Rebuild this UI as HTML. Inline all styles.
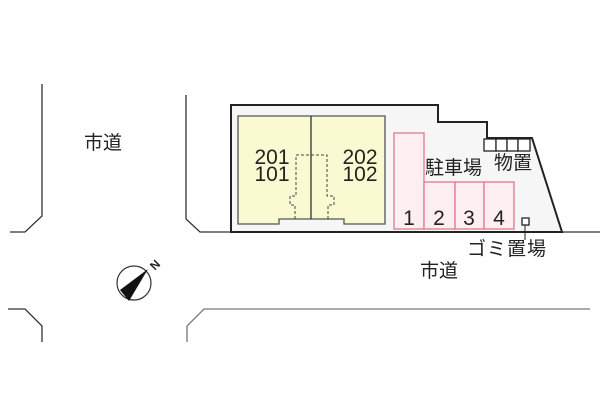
<!DOCTYPE html>
<html><head><meta charset="utf-8"><style>
body{margin:0;background:#fff;width:600px;height:400px;overflow:hidden}
text{font-family:"Liberation Sans","Noto Sans CJK JP",sans-serif;fill:#222}
</style></head><body>
<svg width="600" height="400" viewBox="0 0 600 400" xmlns="http://www.w3.org/2000/svg">
<g fill="none" stroke="#333" stroke-width="1.3">
<polyline points="42,84 42,216 25,232 10,232"/>
<polyline points="186,95 186,219 200,232 600,232"/>
<polyline points="8,309 25,309 42,326 42,342"/>
<polyline points="187,342 187,326 204,309 590,309" stroke="#777"/>
</g>
<polygon points="231,105 438,105 438,122 487,122 487,138 532,138 562,232 231,232" fill="#f6f6f6" stroke="#222" stroke-width="2"/>
<polygon points="238,116 385,116 385,224 344,224 344,219 279,219 279,224 238,224" fill="#fafad2" stroke="#555" stroke-width="1.3"/>
<line x1="311" y1="116" x2="311" y2="219" stroke="#333" stroke-width="1.3"/>
<g fill="none" stroke="#444" stroke-width="1" stroke-dasharray="3,2">
<polyline points="295,219 295,205 290,205 290,196 296,196 296,155 327,155 327,196 334,196 334,205 328,205 328,219"/>
</g>
<g fill="#fdeef2" stroke="#e0788c" stroke-width="1.3">
<rect x="394" y="133" width="30" height="96"/>
<rect x="424" y="182" width="31" height="47"/>
<rect x="455" y="182" width="29" height="47"/>
<rect x="484" y="182" width="30" height="47"/>
</g>
<g fill="#fff" stroke="#222" stroke-width="1.3">
<rect x="484" y="139" width="12" height="12"/>
<rect x="496" y="139" width="11" height="12"/>
<rect x="507" y="139" width="11" height="12"/>
<rect x="518" y="139" width="12" height="12"/>
<rect x="522" y="218" width="7" height="7"/>
</g>
<line x1="525" y1="225" x2="525" y2="240" stroke="#222"/>
<g font-size="21" text-anchor="middle">
<text x="272" y="164">201</text><text x="272" y="181">101</text>
<text x="360" y="164">202</text><text x="360" y="181">102</text>
<text x="409" y="225">1</text><text x="439" y="225">2</text>
<text x="469" y="225">3</text><text x="499" y="225">4</text>
</g>
<g font-size="19">
<text x="425" y="174">駐車場</text>
<text x="494" y="169">物置</text>
<text x="467" y="255" letter-spacing="1">ゴミ置場</text>
<text x="84" y="149">市道</text>
<text x="420" y="277">市道</text>
</g>
<circle cx="134" cy="283" r="17" fill="#fff" stroke="#333" stroke-width="1.2"/>
<polygon points="148,269 120,290 129,301" fill="#111"/>
<text x="152" y="272" font-size="12" transform="rotate(-45 152 268)" style="font-weight:bold">N</text>
</svg>
</body></html>
